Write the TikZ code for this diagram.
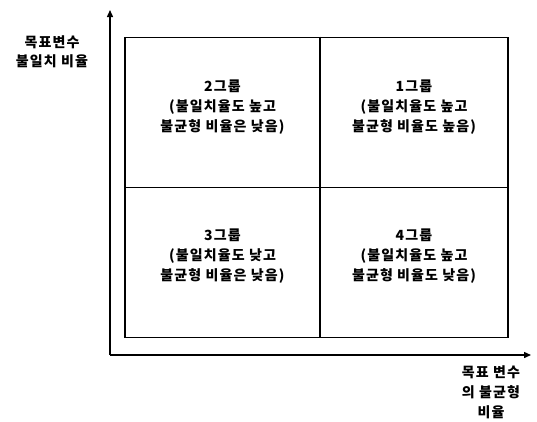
\documentclass[tikz,border=0pt]{standalone}
\usepackage{fontspec}
\setmainfont{Noto Sans CJK KR}
\newfontfamily\krb{Noto Sans CJK KR}[LetterSpace=8]
\usetikzlibrary{arrows.meta}
\begin{document}
\begin{tikzpicture}[x=1pt,y=-1pt,
  lbl/.style={align=center,font=\krb\bfseries\fontsize{14}{20}\selectfont,inner sep=0pt},
  ax/.style={line width=1.4pt,-{Triangle[length=7pt,width=6pt]}},
  frame/.style={line width=1.8pt}]
\useasboundingbox (0,0) rectangle (537,421);
\coordinate (O) at (110,355);
\coordinate (Ytop) at (110,10);
\coordinate (Xend) at (531,355);
\draw[ax] (O) -- (Ytop);
\draw[ax] (O) -- (Xend);
\node[draw,frame,minimum width=383pt,minimum height=300pt,inner sep=0pt] (box) at (316.5,187.5) {};
\draw[frame] (box.north -| 320,0) coordinate (vt) -- (box.south -| 320,0) coordinate (vb);
\draw[frame] (box.west) -- (box.east);
\node[lbl] (g2) at (222.5,107) {2그룹\\(불일치율도 높고\\불균형 비율은 낮음)};
\node[lbl] (g1) at (414,107) {1그룹\\(불일치율도 높고\\불균형 비율도 높음)};
\node[lbl] (g3) at (222.5,256) {3그룹\\(불일치율도 낮고\\불균형 비율은 낮음)};
\node[lbl] (g4) at (414,256) {4그룹\\(불일치율도 높고\\불균형 비율도 낮음)};
\node[lbl,font=\krb\bfseries\fontsize{14}{19}\selectfont] (ylab) at (52,52) {목표변수\\불일치 비율};
\node[lbl] (xlab) at (491,392) {목표 변수\\의 불균형\\비율};
\end{tikzpicture}
\end{document}
